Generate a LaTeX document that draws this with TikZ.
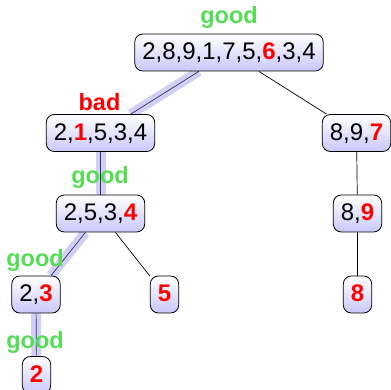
\documentclass[tikz,border=0pt]{standalone}
\usepackage{fontspec}
\setmainfont{Liberation Sans}
\usetikzlibrary{backgrounds}
\definecolor{hl}{RGB}{208,208,247}
\definecolor{nodebot}{RGB}{200,200,250}
\definecolor{goodgreen}{RGB}{85,221,85}
\definecolor{hlline}{RGB}{50,50,90}
\tikzset{
 arr/.style={draw=black, rounded corners=8pt, top color=white, bottom color=nodebot, line width=0.8pt, inner xsep=7.5pt, inner ysep=0pt, minimum height=37pt, text height=17.2pt, text depth=2.4pt, font=\fontsize{24}{28}\selectfont},
 lbl/.style={anchor=base, font=\fontsize{23.5}{27}\selectfont\bfseries, inner sep=0pt},
 goodlbl/.style={lbl, text=goodgreen},
 badlbl/.style={lbl, text=red},
 plainedge/.style={line width=0.7pt, draw=black},
 hledge/.style={line width=10pt, draw=hl},
 hlthin/.style={line width=0.7pt, draw=hlline},
}
\newcommand{\piv}[1]{\textcolor{red}{\bfseries #1}}
\begin{document}
\begin{tikzpicture}[x=1pt,y=1pt]
\useasboundingbox (0,0) rectangle (391,390);
\node[arr] (root) at (229,337.5) {2,8,9,1,7,5,\piv{6},3,4};
\node[arr] (L1) at (100.5,257) {2,\piv{1},5,3,4};
\node[arr] (R1) at (356.5,257) {8,9,\piv{7}};
\node[arr] (L2) at (100.5,176.5) {2,5,3,\piv{4}};
\node[arr] (R2) at (357.5,176.5) {8,\piv{9}};
\node[arr] (LL) at (36,95.5) {2,\piv{3}};
\node[arr] (L5) at (164.5,95.5) {\piv{5}};
\node[arr] (R3) at (357.5,95.5) {\piv{8}};
\node[arr] (B2) at (36.5,15) {\piv{2}};
\begin{scope}[on background layer]
\path[hledge] (root) -- (L1);
\draw[hlthin] (root) -- (L1);
\path[hledge] (L1) -- (L2);
\draw[hlthin] (L1) -- (L2);
\path[hledge] (L2) -- (LL);
\draw[hlthin] (L2) -- (LL);
\path[hledge] (LL) -- (B2);
\draw[hlthin] (LL) -- (B2);
\draw[plainedge] (root) -- (R1);
\draw[plainedge] (R1) -- (R2);
\draw[plainedge] (R2) -- (R3);
\draw[plainedge] (L2) -- (L5);
\end{scope}
\node[goodlbl] (g1) at (229,366.7) {good};
\node[badlbl] (b1) at (99.5,279) {bad};
\node[goodlbl] (g2) at (100,206.5) {good};
\node[goodlbl] (g3) at (35,123) {good};
\node[goodlbl] (g4) at (35,41) {good};
\end{tikzpicture}
\end{document}
